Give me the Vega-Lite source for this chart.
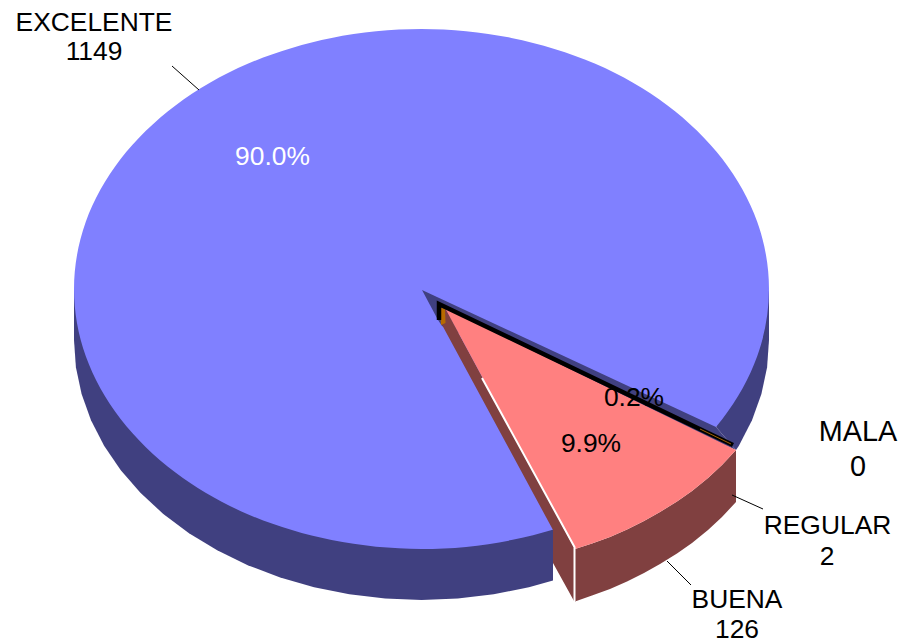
{"$schema":"https://vega.github.io/schema/vega-lite/v6.json","width":900,"height":644,"padding":0,"autosize":"none","background":"white","config":{"view":{"stroke":null}},
"datasets":{
"wallLeft":[{"i":0,"x":-347.5,"y":0},{"i":1,"x":-347.5,"y":-51},{"i":2,"x":-345.6,"y":-78.2},{"i":3,"x":-339.9,"y":-105.1},{"i":4,"x":-330.5,"y":-131.3},{"i":5,"x":-317.4,"y":-156.7},{"i":6,"x":-300.9,"y":-181},{"i":7,"x":-281.1,"y":-203.8},{"i":8,"x":-258.2,"y":-225},{"i":9,"x":-232.5,"y":-244.2},{"i":10,"x":-204.3,"y":-261.3},{"i":11,"x":-173.8,"y":-276.2},{"i":12,"x":-141.3,"y":-288.5},{"i":13,"x":-107.4,"y":-298.3},{"i":14,"x":-72.2,"y":-305.3},{"i":15,"x":-36.3,"y":-309.6},{"i":16,"x":0,"y":-311},{"i":17,"x":36.3,"y":-309.6},{"i":18,"x":72.2,"y":-305.3},{"i":19,"x":107.4,"y":-298.3},{"i":20,"x":131.5,"y":-291.6},{"i":21,"x":131.5,"y":0}],
"wallRight":[{"i":0,"x":347.5,"y":0},{"i":1,"x":347.5,"y":-51},{"i":2,"x":345.6,"y":-78.2},{"i":3,"x":339.9,"y":-105.1},{"i":4,"x":330.5,"y":-131.3},{"i":5,"x":317.4,"y":-156.7},{"i":6,"x":314.5,"y":-161},{"i":7,"x":294.5,"y":-138}],
"top":[{"i":0,"x":347.5,"y":0},{"i":1,"x":335.7,"y":67.3},{"i":2,"x":300.9,"y":130},{"i":3,"x":245.7,"y":183.8},{"i":4,"x":173.8,"y":225.2},{"i":5,"x":89.9,"y":251.1},{"i":6,"x":0,"y":260},{"i":7,"x":-89.9,"y":251.1},{"i":8,"x":-173.8,"y":225.2},{"i":9,"x":-245.7,"y":183.8},{"i":10,"x":-300.9,"y":130},{"i":11,"x":-335.7,"y":67.3},{"i":12,"x":-347.5,"y":0},{"i":13,"x":-335.7,"y":-67.3},{"i":14,"x":-300.9,"y":-130},{"i":15,"x":-245.7,"y":-183.8},{"i":16,"x":-173.8,"y":-225.2},{"i":17,"x":-89.9,"y":-251.1},{"i":18,"x":0,"y":-260},{"i":19,"x":89.9,"y":-251.1},{"i":20,"x":173.8,"y":-225.2},{"i":21,"x":245.7,"y":-183.8},{"i":22,"x":300.9,"y":-130},{"i":23,"x":335.7,"y":-67.3}],
"strip":[{"i":0,"x":0.5,"y":-1},{"i":1,"x":294.5,"y":-138},{"i":2,"x":314.5,"y":-161},{"i":3,"x":20.5,"y":-37},{"i":4,"x":16.5,"y":-31}],
"redWall":[{"i":0,"x":314.5,"y":-161},{"i":1,"x":300.5,"y":-176},{"i":2,"x":286.5,"y":-189},{"i":3,"x":270.5,"y":-202},{"i":4,"x":255.5,"y":-212.5},{"i":5,"x":238.5,"y":-223},{"i":6,"x":222.5,"y":-232},{"i":7,"x":205.5,"y":-240.5},{"i":8,"x":188.5,"y":-248},{"i":9,"x":170.5,"y":-254.6},{"i":10,"x":153.5,"y":-260},{"i":11,"x":153.5,"y":-312.5},{"i":12,"x":170.5,"y":-306.6},{"i":13,"x":188.5,"y":-300},{"i":14,"x":205.5,"y":-292.5},{"i":15,"x":222.5,"y":-284},{"i":16,"x":238.5,"y":-275},{"i":17,"x":255.5,"y":-264.5},{"i":18,"x":270.5,"y":-254},{"i":19,"x":286.5,"y":-241},{"i":20,"x":300.5,"y":-228},{"i":21,"x":314.5,"y":-213}],
"redInner":[{"i":0,"x":19.5,"y":-34},{"i":1,"x":131.5,"y":-241},{"i":2,"x":131.5,"y":-274},{"i":3,"x":152.5,"y":-312},{"i":4,"x":153,"y":-259},{"i":5,"x":23.5,"y":-19}],
"redTop":[{"i":0,"x":23.5,"y":-19},{"i":1,"x":314.5,"y":-161},{"i":2,"x":300.5,"y":-176},{"i":3,"x":286.5,"y":-189},{"i":4,"x":270.5,"y":-202},{"i":5,"x":255.5,"y":-212.5},{"i":6,"x":238.5,"y":-223},{"i":7,"x":222.5,"y":-232},{"i":8,"x":205.5,"y":-240.5},{"i":9,"x":188.5,"y":-248},{"i":10,"x":170.5,"y":-254.6},{"i":11,"x":153.5,"y":-260}],
"orange":[{"i":0,"x":18.5,"y":-18},{"i":1,"x":23.5,"y":-20},{"i":2,"x":24,"y":-34},{"i":3,"x":19.5,"y":-36}],
"black":[{"i":0,"x":17.5,"y":-31},{"i":1,"x":17.5,"y":-15},{"i":2,"x":311.5,"y":-156}],
"orangeEdge":[{"i":0,"x":278.5,"y":-140},{"i":1,"x":309.5,"y":-155}],
"white":[{"i":0,"x":60.5,"y":-89},{"i":1,"x":153,"y":-258},{"i":2,"x":153,"y":-312}],
"leaders":[{"k":"EXCELENTE","i":0,"x":-249.5,"y":223},{"k":"EXCELENTE","i":1,"x":-222.5,"y":199},{"k":"REGULAR","i":0,"x":310.5,"y":-206},{"k":"REGULAR","i":1,"x":341.5,"y":-220},{"k":"BUENA","i":0,"x":245.5,"y":-272},{"k":"BUENA","i":1,"x":269.5,"y":-296}],
"labels":[{"t":"EXCELENTE","x":-327.5,"y":258},{"t":"1149","x":-327.5,"y":229},{"t":"0.2%","x":212.5,"y":-117},{"t":"9.9%","x":169.5,"y":-163},{"t":"REGULAR","x":406,"y":-245},{"t":"2","x":405.5,"y":-276},{"t":"BUENA","x":315.5,"y":-319},{"t":"126","x":315.5,"y":-349}],
"labelsBig":[{"t":"MALA","x":436.5,"y":-152},{"t":"0","x":436.5,"y":-187}],
"labelsWhite":[{"t":"90.0%","x":-149,"y":124}]
},
"encoding":{
"x":{"field":"x","type":"quantitative","scale":{"domain":[-421.5,478.5],"nice":false,"zero":false},"axis":null},
"y":{"field":"y","type":"quantitative","scale":{"domain":[-355,289],"nice":false,"zero":false},"axis":null}
},
"layer":[
{"data":{"name":"wallLeft"},"mark":{"type":"line","fill":"#404080","strokeWidth":0},"encoding":{"order":{"field":"i"}}},
{"data":{"name":"wallRight"},"mark":{"type":"line","fill":"#404080","strokeWidth":0},"encoding":{"order":{"field":"i"}}},
{"data":{"name":"top"},"mark":{"type":"line","fill":"#8080FF","strokeWidth":0,"interpolate":"cardinal-closed"},"encoding":{"order":{"field":"i"}}},
{"data":{"name":"strip"},"mark":{"type":"line","fill":"#404080","strokeWidth":0},"encoding":{"order":{"field":"i"}}},
{"data":{"name":"redWall"},"mark":{"type":"line","fill":"#804040","strokeWidth":0},"encoding":{"order":{"field":"i"}}},
{"data":{"name":"redInner"},"mark":{"type":"line","fill":"#804040","strokeWidth":0},"encoding":{"order":{"field":"i"}}},
{"data":{"name":"redTop"},"mark":{"type":"line","fill":"#FF8080","strokeWidth":0},"encoding":{"order":{"field":"i"}}},
{"data":{"name":"orange"},"mark":{"type":"line","fill":"#B86A00","strokeWidth":0},"encoding":{"order":{"field":"i"}}},
{"data":{"name":"black"},"mark":{"type":"line","stroke":"#000000","strokeWidth":4.5,"strokeJoin":"miter","strokeCap":"butt"},"encoding":{"order":{"field":"i"}}},
{"data":{"name":"orangeEdge"},"mark":{"type":"line","stroke":"#A06000","strokeWidth":1},"encoding":{"order":{"field":"i"}}},
{"data":{"name":"white"},"mark":{"type":"line","stroke":"#FFFFFF","strokeWidth":2,"strokeJoin":"miter"},"encoding":{"order":{"field":"i"}}},
{"data":{"name":"leaders"},"mark":{"type":"line","stroke":"#000000","strokeWidth":1},"encoding":{"order":{"field":"i"},"detail":{"field":"k"}}},
{"data":{"name":"labels"},"mark":{"type":"text","font":"Liberation Sans","fontSize":26.4,"align":"center","baseline":"alphabetic","color":"#000000"},"encoding":{"text":{"field":"t"}}},
{"data":{"name":"labelsBig"},"mark":{"type":"text","font":"Liberation Sans","fontSize":28.8,"align":"center","baseline":"alphabetic","color":"#000000"},"encoding":{"text":{"field":"t"}}},
{"data":{"name":"labelsWhite"},"mark":{"type":"text","font":"Liberation Sans","fontSize":26.4,"align":"center","baseline":"alphabetic","color":"#FFFFFF"},"encoding":{"text":{"field":"t"}}}
]}
